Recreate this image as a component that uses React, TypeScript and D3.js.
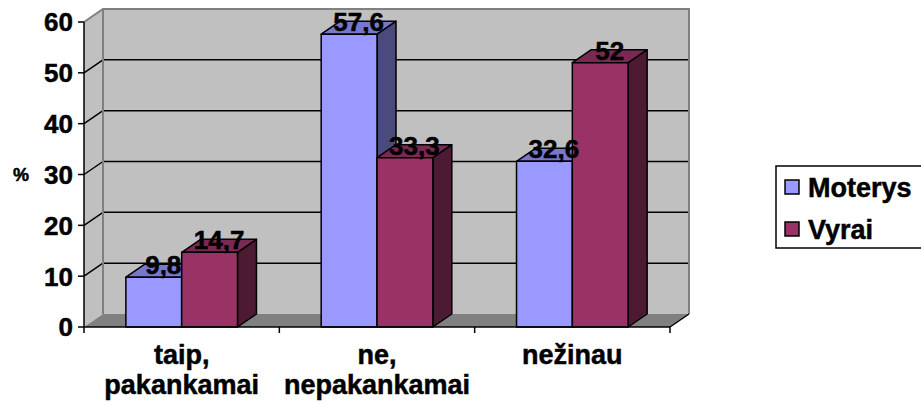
import React from "react";
import * as d3 from "d3";

const categories = ["taip,|pakankamai", "ne,|nepakankamai", "nežinau"];
const seriesNames = ["Moterys", "Vyrai"];
const moterys = [9.8, 57.6, 32.6];
const vyrai = [14.7, 33.3, 52];
const valueLabels = [["9,8", "57,6", "32,6"], ["14,7", "33,3", "52"]];
const yTicks = [0, 10, 20, 30, 40, 50, 60];

const frontColors = ["#9999FF", "#993366"];
const topColors = ["#7777CC", "#7A2952"];
const sideColors = ["#4A4A7D", "#4D1A33"];

const W = 921, H = 405;
const L = 84, R = 670, B = 327, T = 22;
const DX = 19, DY = -13;
const FONT = "'Liberation Sans', Arial, sans-serif";
const TXT = { fontWeight: "bold" as const, fontFamily: FONT, fill: "#000", stroke: "#000", strokeWidth: 0.5 };

export default function App() {
  const y = d3.scaleLinear().domain([0, 60]).range([B, T]);
  const x0 = d3.scaleBand<string>().domain(categories).range([L, R]).padding(0);
  const x1 = d3.scaleBand<string>().domain(seriesNames).range([0, x0.bandwidth()]).paddingInner(0).paddingOuter(0.75);
  const data = [moterys, vyrai];

  const bars: React.ReactNode[] = [];
  const labels: React.ReactNode[] = [];
  categories.forEach((c, ci) => {
    seriesNames.forEach((s, si) => {
      const v = data[si][ci];
      const xa = x0(c)! + x1(s)!;
      const xb = xa + x1.bandwidth();
      const yt = y(v);
      const front = `M${xa},${B}L${xa},${yt}L${xb},${yt}L${xb},${B}Z`;
      const top = `M${xa},${yt}L${xa + DX},${yt + DY}L${xb + DX},${yt + DY}L${xb},${yt}Z`;
      const side = `M${xb},${B}L${xb},${yt}L${xb + DX},${yt + DY}L${xb + DX},${B + DY}Z`;
      bars.push(
        <g key={`${ci}-${si}`} stroke="#000" strokeWidth={1.5} strokeLinejoin="round">
          <path d={side} fill={sideColors[si]} />
          <path d={top} fill={topColors[si]} />
          <path d={front} fill={frontColors[si]} />
        </g>
      );
      labels.push(
        <text key={`l${ci}-${si}`} x={(xa + xb) / 2 + DX / 2} y={yt - 3} textAnchor="middle"
          fontSize={26} {...TXT}>{valueLabels[si][ci]}</text>
      );
    });
  });

  return (
    <svg width={W} height={H} style={{ position: "absolute", left: 0, top: 0, background: "#fff" }}>
      <path d={`M${L},${B}L${L},${T}L${L + DX},${T + DY}L${L + DX},${B + DY}Z`} fill="#C0C0C0" />
      <rect x={L + DX} y={T + DY} width={R - L} height={B - T} fill="#C0C0C0" />
      {yTicks.filter(t => t > 0 && t < 60).map(t => (
        <g key={t} stroke="#000" strokeWidth={1.5}>
          <line x1={L} y1={y(t)} x2={L + DX} y2={y(t) + DY} />
          <line x1={L + DX} y1={y(t) + DY} x2={R + DX} y2={y(t) + DY} />
        </g>
      ))}
      <path d={`M${L},${T}L${L + DX},${T + DY}L${R + DX},${T + DY}L${R + DX},${B + DY}`} fill="none" stroke="#808080" strokeWidth={2} />
      <line x1={L + DX} y1={T + DY} x2={L + DX} y2={B + DY} stroke="#808080" strokeWidth={2} />
      <path d={`M${L},${B}L${R},${B}L${R + DX},${B + DY}L${L + DX},${B + DY}Z`} fill="#808080" />
      <line x1={R} y1={B} x2={R + DX} y2={B + DY} stroke="#000" strokeWidth={1.5} />
      {bars}
      <line x1={L} y1={T} x2={L} y2={B} stroke="#000" strokeWidth={1.5} />
      <line x1={L} y1={B} x2={R} y2={B} stroke="#000" strokeWidth={1.5} />
      {yTicks.map(t => (
        <g key={`yt${t}`}>
          <line x1={L - 6} y1={y(t)} x2={L} y2={y(t)} stroke="#000" strokeWidth={1.5} />
          <text x={L - 11} y={y(t)} dy="0.36em" textAnchor="end" fontSize={26} {...TXT}>{t}</text>
        </g>
      ))}
      {[...categories.map(c => x0(c)!), R].map((xv, i) => (
        <line key={`xt${i}`} x1={xv} y1={B} x2={xv} y2={B + 6} stroke="#000" strokeWidth={1.5} />
      ))}
      {categories.map(c => {
        const lines = c.split("|");
        const cx = x0(c)! + x0.bandwidth() / 2;
        return (
          <text key={c} x={cx} y={364} textAnchor="middle" fontSize={27} {...TXT}>
            {lines.map((ln, i) => <tspan key={i} x={cx} dy={i === 0 ? 0 : 30}>{ln}</tspan>)}
          </text>
        );
      })}
      <text x={21} y={y(30)} dy="0.36em" textAnchor="middle" fontSize={18} {...TXT}>%</text>
      {labels}
      <rect x={776} y={166} width={160} height={82} fill="#fff" stroke="#000" strokeWidth={1.5} />
      {seriesNames.map((s, i) => (
        <g key={s}>
          <rect x={785} y={180 + i * 42} width={14} height={14} fill={frontColors[i]} stroke="#000" strokeWidth={1.5} />
          <text x={808} y={197 + i * 42} fontSize={27} {...TXT}>{s}</text>
        </g>
      ))}
    </svg>
  );
}
